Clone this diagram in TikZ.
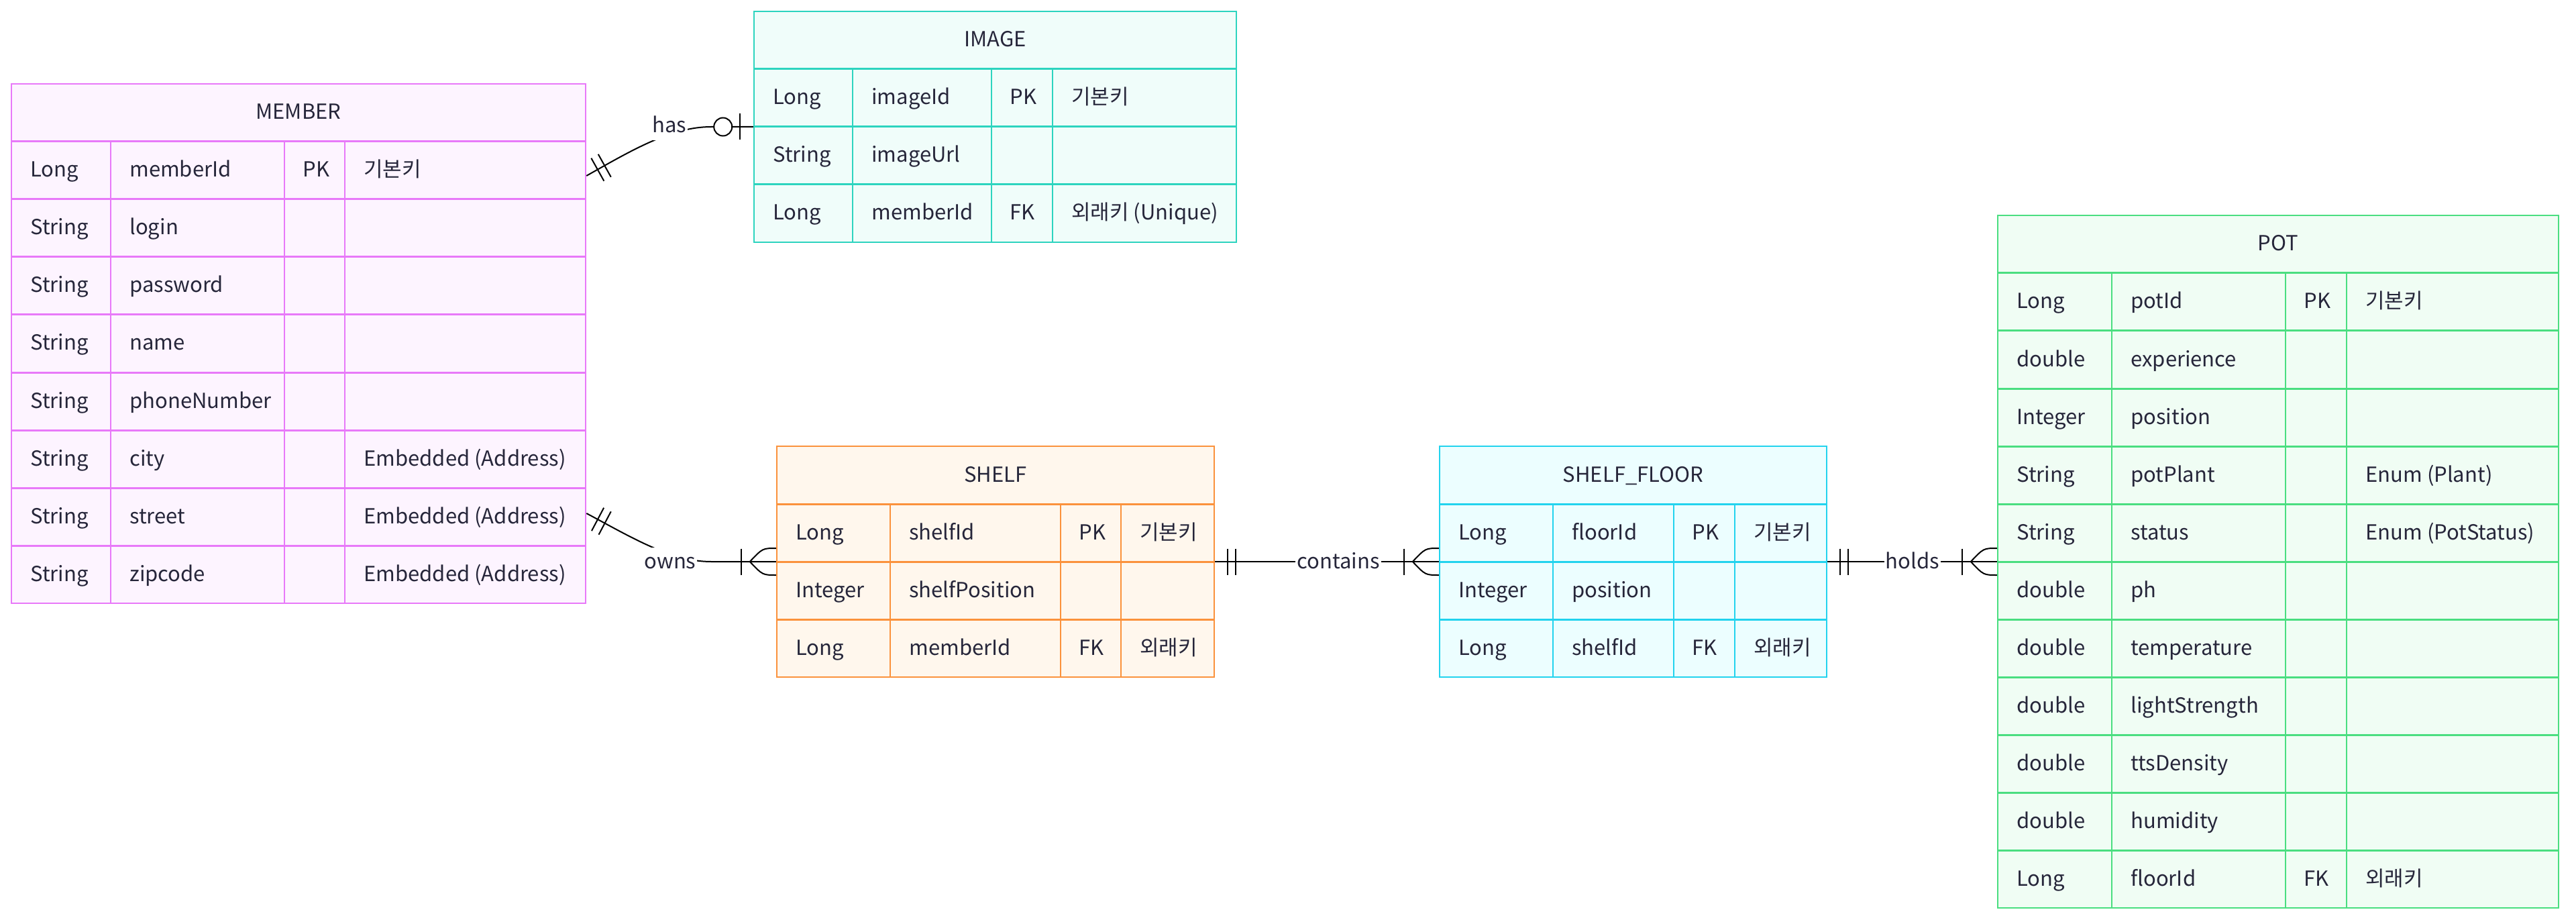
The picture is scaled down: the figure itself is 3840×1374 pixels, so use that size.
\documentclass[tikz,border=0pt]{standalone}
\usepackage{fontspec}
\setmainfont{Noto Sans CJK KR}
\usetikzlibrary{fit,calc}
\definecolor{memline}{HTML}{E879F9}
\definecolor{memfill}{HTML}{FDF4FF}
\definecolor{imgline}{HTML}{2DD4BF}
\definecolor{imgfill}{HTML}{F0FDFA}
\definecolor{shfline}{HTML}{FB923C}
\definecolor{shffill}{HTML}{FFF7ED}
\definecolor{flrline}{HTML}{22D3EE}
\definecolor{flrfill}{HTML}{ECFEFF}
\definecolor{potline}{HTML}{4ADE80}
\definecolor{potfill}{HTML}{F0FDF4}
\definecolor{txt}{HTML}{26263A}
\tikzset{
  celltext/.style={font=\fontsize{15.5}{19}\selectfont, text=txt, inner sep=0pt},
  entitybox/.style={inner sep=0pt, line width=1.25pt},
  rowsep/.style={line width=1.5pt},
  colsep/.style={line width=1pt},
  rel/.style={line width=1pt, draw=black},
  relmark/.style={line width=1pt, draw=black},
  lbl/.style={font=\fontsize{15.5}{19}\selectfont, text=txt, fill=white, inner xsep=1pt, inner ysep=0pt, minimum height=23pt, anchor=base},
}
% #1 name, #2 title, #3 colour prefix, #4 top, #5 number of rows, #6 rows
\newcommand\erentity[6]{%
  \pgfmathsetmacro\erbot{#4+86*(#5+1)}%
  \pgfmathsetmacro\erhead{#4+86}%
  \coordinate (#1-nw) at (\cA,#4);
  \coordinate (#1-se) at (\cE,\erbot);
  \node[entitybox, fit=(#1-nw)(#1-se), draw=#3line, fill=#3fill] (#1) {};
  \node[celltext, anchor=base] (#1-title) at ({(\cA+\cE)/2},{#4+53}) {#2};
  \foreach \ty/\nm/\ky/\cm [count=\i] in {#6} {
    \pgfmathsetmacro\ry{#4+86*\i}
    \draw[#3line, rowsep] (\cA,\ry) -- (\cE,\ry);
    \node[celltext, anchor=base west] (#1-a\i) at (\cA+28,\ry+53) {\ty};
    \node[celltext, anchor=base west] (#1-b\i) at (\cB+28,\ry+53) {\nm};
    \node[celltext, anchor=base west] (#1-c\i) at (\cC+27,\ry+53) {\ky};
    \node[celltext, anchor=base west] (#1-d\i) at (\cD+28,\ry+53) {\cm};
  }
  \draw[#3line, colsep] (\cB,\erhead) -- (\cB,\erbot) (\cC,\erhead) -- (\cC,\erbot) (\cD,\erhead) -- (\cD,\erbot);
  \draw[#3line, entitybox] (#1-nw) rectangle (#1-se);
}
\begin{document}
\begin{tikzpicture}[x=0.5pt,y=-0.5pt]
\useasboundingbox (0,0) rectangle (3840,1374);
\fill[white] (0,0) rectangle (3840,1374);

% MEMBER
\def\cA{17}\def\cB{165}\def\cC{424}\def\cD{514}\def\cE{873}
\erentity{member}{MEMBER}{mem}{125}{8}{Long/memberId/PK/기본키, String/login//, String/password//, String/name//, String/phoneNumber//, String/city//Embedded (Address), String/street//Embedded (Address), String/zipcode//Embedded (Address)}

% IMAGE
\def\cA{1124}\def\cB{1271}\def\cC{1478}\def\cD{1569}\def\cE{1843}
\erentity{image}{IMAGE}{img}{17}{3}{Long/imageId/PK/기본키, String/imageUrl//, Long/memberId/FK/외래키 (Unique)}

% SHELF
\def\cA{1158}\def\cB{1327}\def\cC{1581}\def\cD{1671}\def\cE{1810}
\erentity{shelf}{SHELF}{shf}{665}{3}{Long/shelfId/PK/기본키, Integer/shelfPosition//, Long/memberId/FK/외래키}

% SHELF_FLOOR
\def\cA{2146}\def\cB{2315}\def\cC{2495}\def\cD{2586}\def\cE{2723}
\erentity{floor}{SHELF\_FLOOR}{flr}{665}{3}{Long/floorId/PK/기본키, Integer/position//, Long/shelfId/FK/외래키}

% POT
\def\cA{2978}\def\cB{3148}\def\cC{3407}\def\cD{3498}\def\cE{3814}
\erentity{pot}{POT}{pot}{321}{11}{Long/potId/PK/기본키, double/experience//, Integer/position//, String/potPlant//Enum (Plant), String/status//Enum (PotStatus), double/ph//, double/temperature//, double/lightStrength//, double/ttsDensity//, double/humidity//, Long/floorId/FK/외래키}

% attachment points
\coordinate (mHas) at (member.north east |- 0,262);
\coordinate (iHas) at (image.north west |- 0,189);
\coordinate (mOwns) at (member.north east |- 0,765);
\coordinate (sOwns) at (shelf.north west |- 0,837);
\coordinate (sCont) at (shelf.north east |- 0,837);
\coordinate (fCont) at (floor.north west |- 0,837);
\coordinate (fHold) at (floor.north east |- 0,837);
\coordinate (pHold) at (pot.north west |- 0,837);

% has
\draw[rel] (mHas) .. controls (940,225) and (1000,189) .. (1060,189) -- (iHas);
\draw[relmark] ($(mHas)+(7.1,-26.3)$) -- ($(mHas)+(26.1,7.7)$);
\draw[relmark] ($(mHas)+(17.5,-32.2)$) -- ($(mHas)+(36.5,1.8)$);
\draw[relmark] ($(iHas)+(-20,-19.5)$) -- ($(iHas)+(-20,19.5)$);
\draw[relmark, fill=white] ($(iHas)+(-45,0)$) circle[radius=13.5];
\node[lbl] (lHas) at (998,198) {has};

% owns
\draw[rel] (mOwns) .. controls (940,800) and (1000,837) .. (1060,837) -- (sOwns);
\draw[relmark] ($(mOwns)+(7.7,26.1)$) -- ($(mOwns)+(25.9,-8.3)$);
\draw[relmark] ($(mOwns)+(18.3,31.7)$) -- ($(mOwns)+(36.5,-2.7)$);
\draw[relmark] ($(sOwns)+(-52,-19.5)$) -- ($(sOwns)+(-52,19.5)$);
\draw[relmark] ($(sOwns)+(0,-20)$) .. controls ($(sOwns)+(-20,-20)$) .. ($(sOwns)+(-39,0)$) .. controls ($(sOwns)+(-20,20)$) .. ($(sOwns)+(0,20)$);
\node[lbl] (lOwns) at (999,847) {owns};

% contains
\draw[rel] (sCont) -- (fCont);
\draw[relmark] ($(sCont)+(19,-19.5)$) -- ($(sCont)+(19,19.5)$);
\draw[relmark] ($(sCont)+(31,-19.5)$) -- ($(sCont)+(31,19.5)$);
\draw[relmark] ($(fCont)+(-52,-19.5)$) -- ($(fCont)+(-52,19.5)$);
\draw[relmark] ($(fCont)+(0,-20)$) .. controls ($(fCont)+(-20,-20)$) .. ($(fCont)+(-39,0)$) .. controls ($(fCont)+(-20,20)$) .. ($(fCont)+(0,20)$);
\node[lbl] (lCont) at (1995,847) {contains};

% holds
\draw[rel] (fHold) -- (pHold);
\draw[relmark] ($(fHold)+(19,-19.5)$) -- ($(fHold)+(19,19.5)$);
\draw[relmark] ($(fHold)+(31,-19.5)$) -- ($(fHold)+(31,19.5)$);
\draw[relmark] ($(pHold)+(-52,-19.5)$) -- ($(pHold)+(-52,19.5)$);
\draw[relmark] ($(pHold)+(0,-20)$) .. controls ($(pHold)+(-20,-20)$) .. ($(pHold)+(-39,0)$) .. controls ($(pHold)+(-20,20)$) .. ($(pHold)+(0,20)$);
\node[lbl] (lHold) at (2851,847) {holds};
\end{tikzpicture}
\end{document}
